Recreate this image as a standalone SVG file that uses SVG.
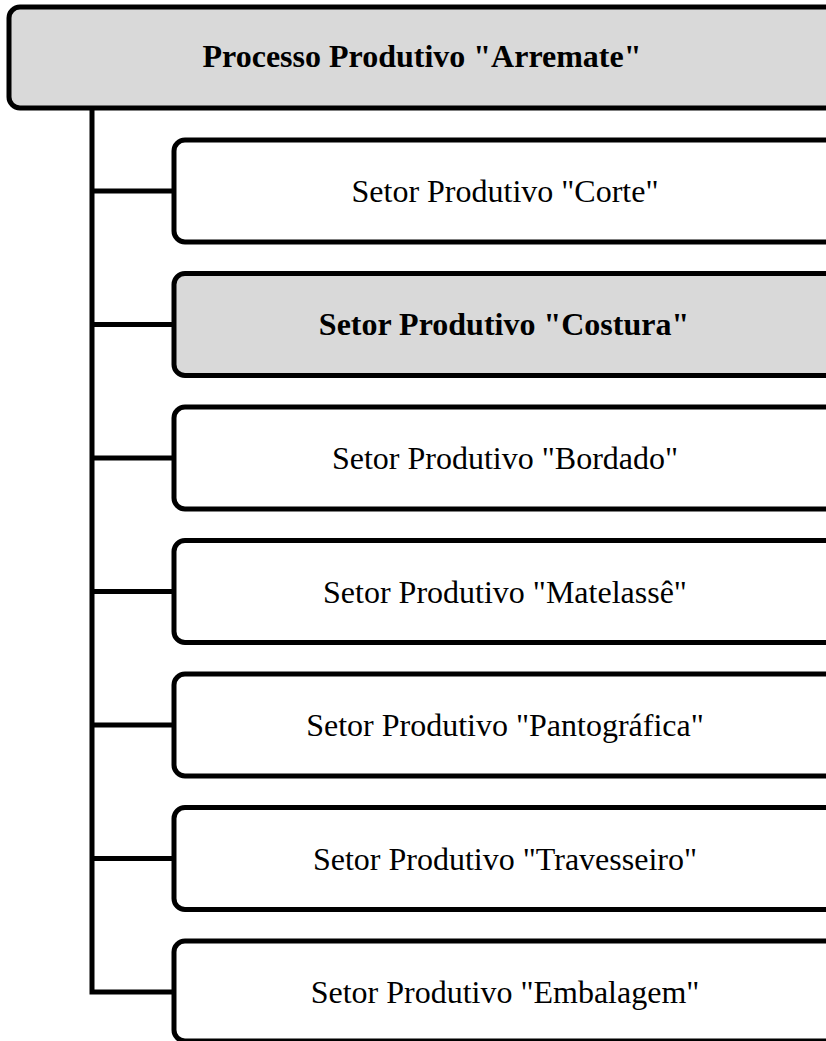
<svg xmlns="http://www.w3.org/2000/svg" width="826" height="1041" viewBox="0 0 826 1041">
<style>
.box{stroke:#000;stroke-width:5;}
.w{fill:#fff;}
.g{fill:#d9d9d9;}
.t{font-family:"Liberation Serif","Times New Roman",serif;font-size:32px;fill:#000;text-anchor:middle;}
.b{font-weight:bold;}
.c{stroke:#000;stroke-width:5;fill:none;}
</style>
<rect width="826" height="1041" fill="#fff"/>
<g id="connectors">
<path class="c" d="M92 108V992M92 191H174M92 324.5H174M92 458H174M92 591.5H174M92 725H174M92 858.5H174M89.5 992H174"/>
</g>
<g id="root">
<rect class="box g" x="9" y="7" width="840" height="101" rx="11"/>
<text class="t b" x="422" y="67">Processo Produtivo "Arremate"</text>
</g>
<g id="corte">
<rect class="box w" x="174" y="140" width="680" height="102" rx="11"/>
<text class="t" x="505" y="202">Setor Produtivo "Corte"</text>
</g>
<g id="costura">
<rect class="box g" x="174" y="273.5" width="680" height="102" rx="11"/>
<text class="t b" x="504" y="335">Setor Produtivo "Costura"</text>
</g>
<g id="bordado">
<rect class="box w" x="174" y="407" width="680" height="102" rx="11"/>
<text class="t" x="505" y="469">Setor Produtivo "Bordado"</text>
</g>
<g id="matelasse">
<rect class="box w" x="174" y="540.5" width="680" height="102" rx="11"/>
<text class="t" x="505" y="602.5">Setor Produtivo "Matelassê"</text>
</g>
<g id="pantografica">
<rect class="box w" x="174" y="674" width="680" height="102" rx="11"/>
<text class="t" x="505" y="736">Setor Produtivo "Pantográfica"</text>
</g>
<g id="travesseiro">
<rect class="box w" x="174" y="807.5" width="680" height="102" rx="11"/>
<text class="t" x="505" y="869.5">Setor Produtivo "Travesseiro"</text>
</g>
<g id="embalagem">
<rect class="box w" x="174" y="941" width="680" height="100" rx="11"/>
<text class="t" x="505" y="1003">Setor Produtivo "Embalagem"</text>
</g>
</svg>
